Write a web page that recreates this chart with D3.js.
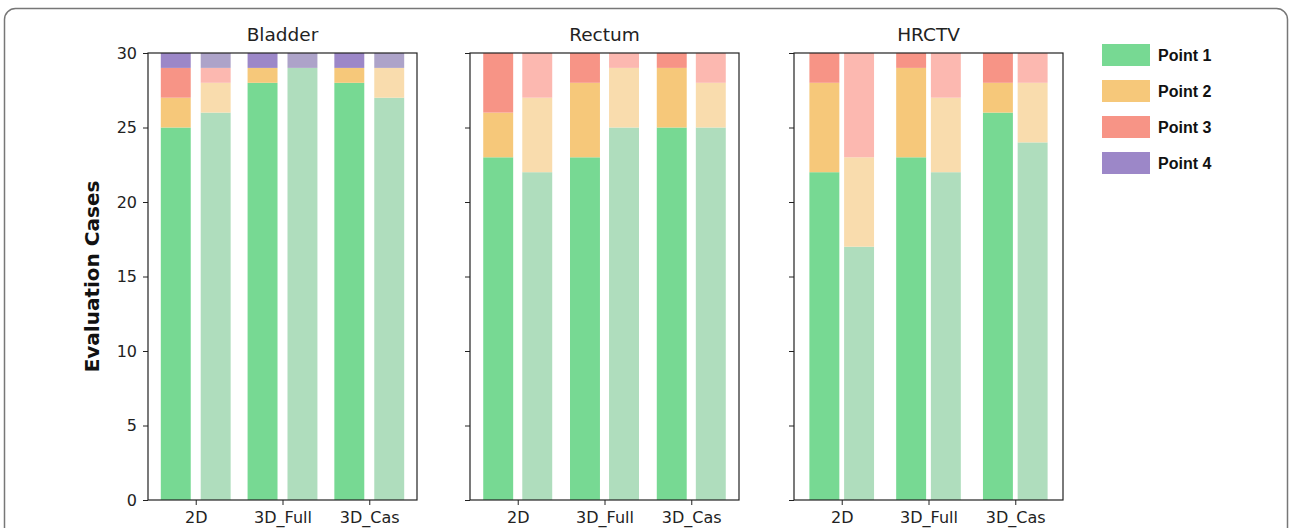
<!DOCTYPE html>
<html>
<head>
<meta charset="utf-8">
<script src="https://cdn.jsdelivr.net/npm/d3@7"></script>
<style>
  body { margin: 0; background: #fff; }
  svg { display: block; }
  .tick text { font-family: "DejaVu Sans", sans-serif; font-size: 16px; fill: #222; }
  .domain, .tick line { stroke: #222; }
</style>
</head>
<body>
<div class="container"></div>
<script>
const _W = 1290, _H = 528;

// data
var panels = ['Bladder', 'Rectum', 'HRCTV'];
var methods = ['2D', '3D_Full', '3D_Cas'];
var points = ['Point 1', 'Point 2', 'Point 3', 'Point 4'];
var yTicks = [0, 5, 10, 15, 20, 25, 30];

// counts per [method][point], first (dark) and second (light) bar of each group
var bladderDark  = [[25, 2, 2, 1], [28, 1, 0, 1], [28, 1, 0, 1]];
var bladderLight = [[26, 2, 1, 1], [29, 0, 0, 1], [27, 2, 0, 1]];
var rectumDark   = [[23, 3, 4, 0], [23, 5, 2, 0], [25, 4, 1, 0]];
var rectumLight  = [[22, 5, 3, 0], [25, 4, 1, 0], [25, 3, 2, 0]];
var hrctvDark    = [[22, 6, 2, 0], [23, 6, 1, 0], [26, 2, 2, 0]];
var hrctvLight   = [[17, 6, 7, 0], [22, 5, 3, 0], [24, 4, 2, 0]];

var darkColors  = ['#77d993', '#f6c87a', '#f79486', '#9c87c8'];
var lightColors = ['#afddbd', '#f9dcad', '#fcb8b0', '#ada3c9'];

var panelData = [
    {dark: bladderDark, light: bladderLight, left: 148, off: 0.23},
    {dark: rectumDark, light: rectumLight, left: 470, off: 0.225},
    {dark: hrctvDark, light: hrctvLight, left: 794, off: 0.2}
];

const TOP = 53, BOTTOM = 500, PW = 269, BAR_W = 0.345;

var translate = function (x, y) {
    return 'translate(' + x + ',' + y + ')';
};

var svg = d3.select('.container').append('svg')
    .attr('width', _W).attr('height', _H);

// frame around figure
svg.append('rect')
    .attr('x', 4.5).attr('y', 8.5)
    .attr('width', 1283).attr('height', 540)
    .attr('rx', 11)
    .attr('fill', 'none')
    .attr('stroke', '#777')
    .attr('stroke-width', 1.5);

var yScale = d3.scaleLinear().domain([0, 30]).range([BOTTOM - TOP, 0]);
var xScale = d3.scaleLinear().domain([-0.55, 2.55]).range([0, PW]);

var stack = function (counts) {
    var out = [], acc = 0;
    counts.forEach(function (v, k) {
        out.push({y0: acc, y1: acc + v, k: k});
        acc += v;
    });
    return out;
};

panelData.forEach(function (p, pi) {
    var g = svg.append('g').attr('transform', translate(p.left, TOP));

    [['dark', -1, darkColors], ['light', 1, lightColors]].forEach(function (s) {
        methods.forEach(function (m, mi) {
            var cx = mi + s[1] * p.off;
            g.append('g').selectAll('rect')
                .data(stack(p[s[0]][mi]).filter(function (d) { return d.y1 > d.y0; }))
                .enter().append('rect')
                .attr('x', xScale(cx - BAR_W / 2))
                .attr('width', xScale(BAR_W) - xScale(0))
                .attr('y', function (d) { return yScale(d.y1); })
                .attr('height', function (d) { return yScale(d.y0) - yScale(d.y1); })
                .attr('fill', function (d) { return s[2][d.k]; });
        });
    });

    // spines
    g.append('rect')
        .attr('x', 0).attr('y', 0)
        .attr('width', PW).attr('height', BOTTOM - TOP)
        .attr('fill', 'none').attr('stroke', '#222').attr('stroke-width', 1.2);

    var yAxis = d3.axisLeft(yScale).tickValues(yTicks).tickSize(5).tickPadding(6);
    if (pi > 0) yAxis.tickFormat('');
    g.append('g').call(yAxis).call(function (a) { a.select('.domain').remove(); });

    var xAxis = d3.axisBottom(xScale).tickValues([0, 1, 2])
        .tickFormat(function (d) { return methods[d]; })
        .tickSize(5).tickPadding(7);
    g.append('g').attr('transform', translate(0, BOTTOM - TOP)).call(xAxis)
        .call(function (a) { a.select('.domain').remove(); });

    g.append('text')
        .attr('x', PW / 2).attr('y', -12)
        .attr('text-anchor', 'middle')
        .attr('font-family', 'DejaVu Sans, sans-serif')
        .attr('font-size', 18.5)
        .attr('fill', '#222')
        .text(panels[pi]);
});

svg.append('text')
    .attr('transform', translate(99, (TOP + BOTTOM) / 2) + ' rotate(-90)')
    .attr('text-anchor', 'middle')
    .attr('font-family', 'DejaVu Sans, sans-serif')
    .attr('font-weight', 'bold')
    .attr('font-size', 20)
    .attr('fill', '#111')
    .text('Evaluation Cases');

// legend
var legend = svg.append('g').attr('transform', translate(1102, 44));
var item = legend.selectAll('g').data(points).enter().append('g')
    .attr('transform', function (d, i) { return translate(0, i * 36); });
item.append('rect')
    .attr('width', 48).attr('height', 22)
    .attr('fill', function (d, i) { return darkColors[i]; });
item.append('text')
    .attr('x', 56).attr('y', 17)
    .attr('font-family', 'Liberation Sans, Arial, sans-serif')
    .attr('font-weight', 'bold')
    .attr('font-size', 16)
    .attr('fill', '#111')
    .text(function (d) { return d; });
</script>
</body>
</html>
